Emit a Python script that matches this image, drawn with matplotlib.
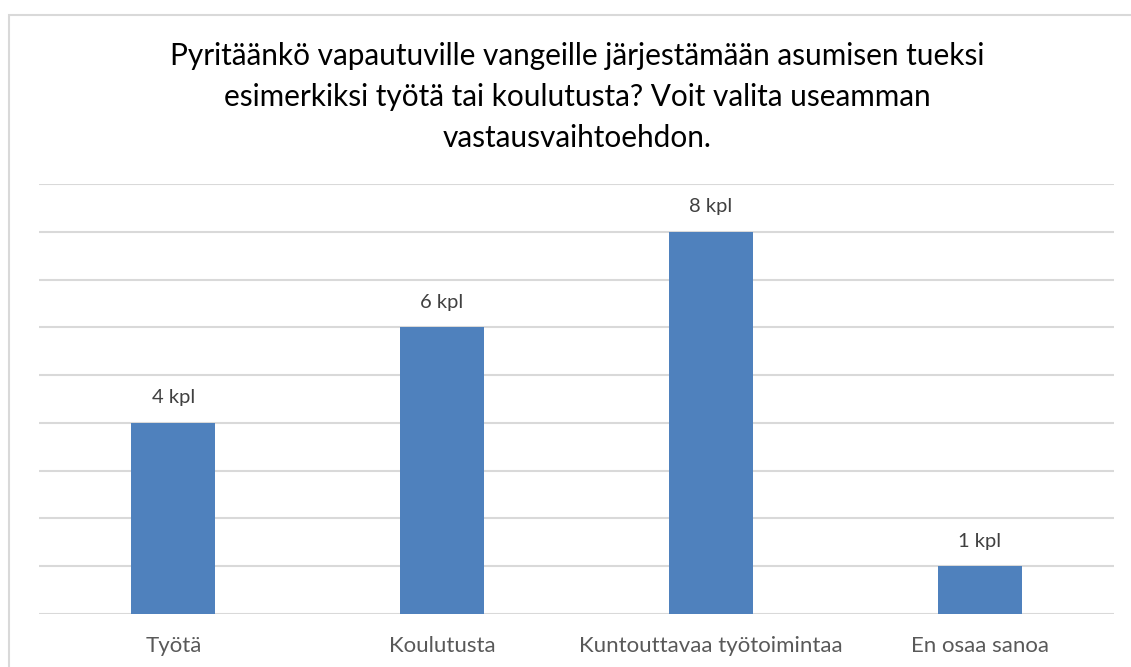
import matplotlib
matplotlib.use("Agg")
import matplotlib.pyplot as plt
from matplotlib.patches import Rectangle

categories = ["Työtä", "Koulutusta", "Kuntouttavaa työtoimintaa", "En osaa sanoa"]
values = [4, 6, 8, 1]
labels = ["4 kpl", "6 kpl", "8 kpl", "1 kpl"]
title = ("Pyritäänkö vapautuville vangeille järjestämään asumisen tueksi\n"
         "esimerkiksi työtä tai koulutusta? Voit valita useamman\n"
         "vastausvaihtoehdon.")

plt.rcParams['font.family'] = ['Lato', 'DejaVu Sans']

W, H = 1131, 667
fig = plt.figure(figsize=(W / 100, H / 100), dpi=100)
fig.patch.set_facecolor("white")

# outer chart border (extends past the image edge)
fig.add_artist(Rectangle((9 / W, -0.1), 1.2, 1 - 15 / H + 0.1, transform=fig.transFigure,
                         fill=False, edgecolor="#D9D9D9", linewidth=1.5))

left, right, bottom, top = 39, 1114, 614, 184
ax = fig.add_axes([left / W, 1 - bottom / H, (right - left) / W, (bottom - top) / H])
x = range(len(categories))
ax.bar(x, values, width=0.3125, color="#4F81BD", zorder=3)
ax.set_xlim(-0.5, len(categories) - 0.5)
ax.set_ylim(0, 9)
ax.set_yticks(range(0, 10))
ax.yaxis.grid(True, color="#D9D9D9", linewidth=1.5, zorder=0)
ax.tick_params(axis="y", left=False, labelleft=False)
ax.tick_params(axis="x", bottom=False, labelsize=16, colors="#595959", pad=12)
ax.set_xticks(list(x))
ax.set_xticklabels(categories)
for s in ax.spines.values():
    s.set_visible(False)
for xi, v, lab in zip(x, values, labels):
    ax.annotate(lab, (xi, v), xytext=(0, 12), textcoords="offset points",
                ha="center", va="bottom", fontsize=14.5, color="#404040")

fig.text(577 / W, 1 - 97 / H, title, ha="center", va="center", fontsize=21.4,
         color="#000000", linespacing=1.55)

fig.savefig("out.png", dpi=100)
